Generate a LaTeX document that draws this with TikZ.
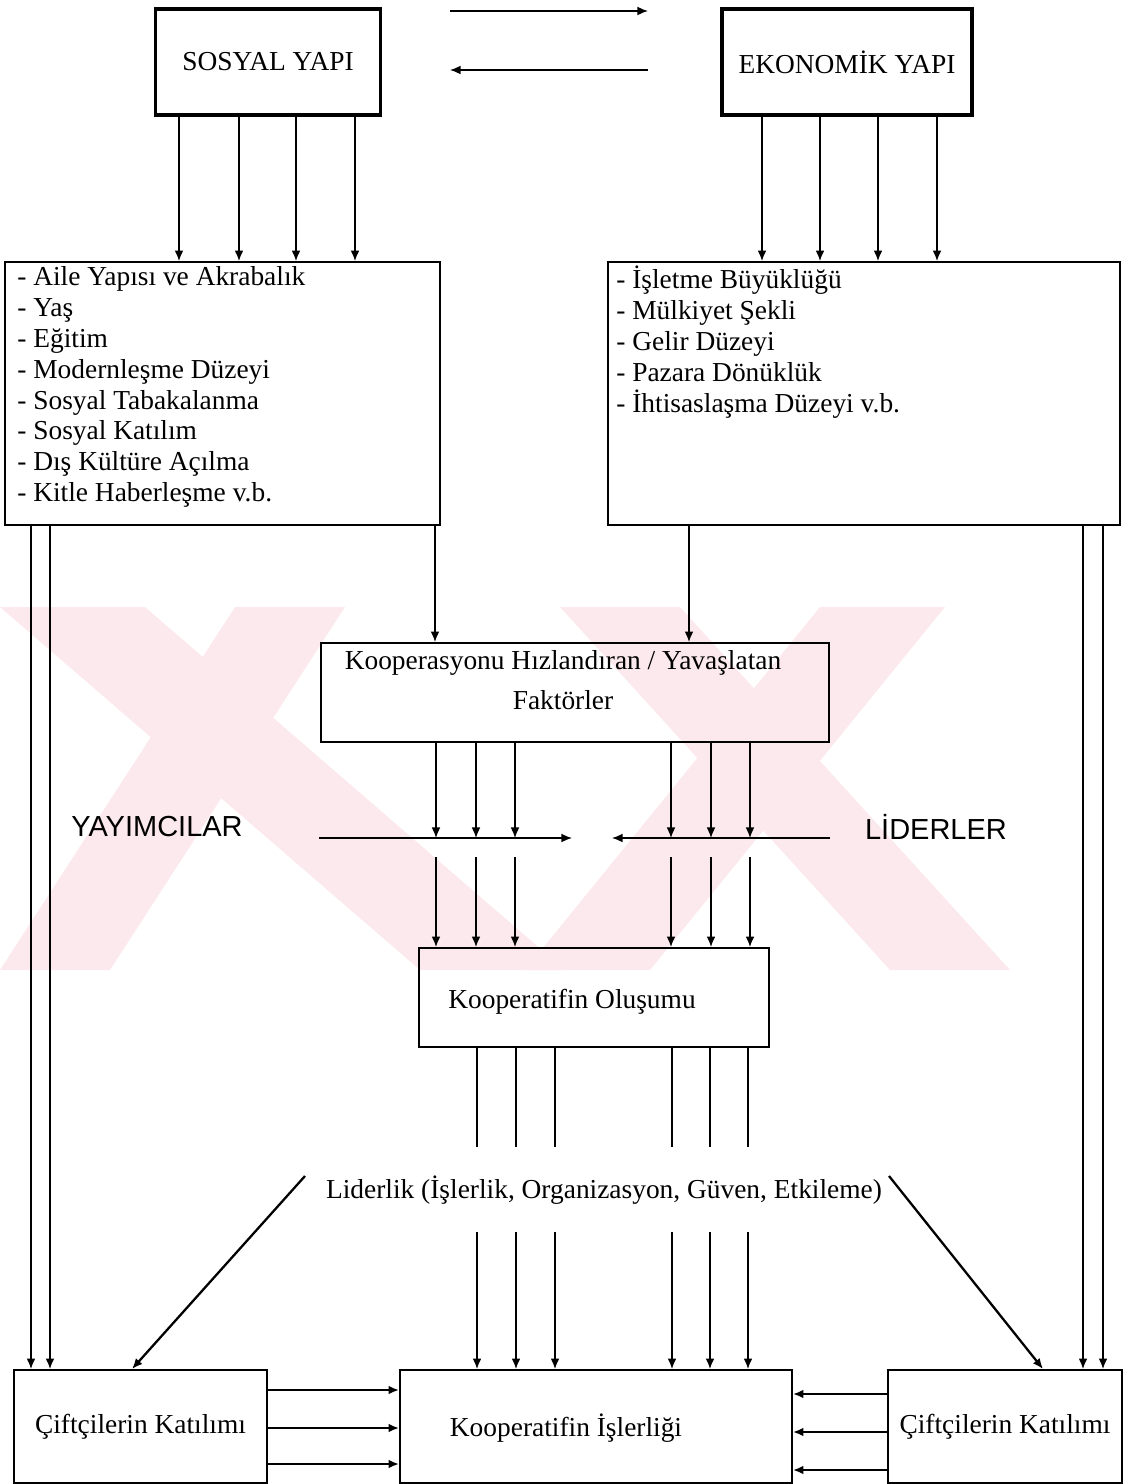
\documentclass[tikz,border=0pt]{standalone}
\usepackage{fontspec}
\setmainfont{Liberation Serif}
\newfontfamily\arialfont{Liberation Sans}
\usetikzlibrary{arrows.meta}

\definecolor{filigran}{RGB}{252,233,237}

\tikzset{
  kutu/.style={draw, line width=1.1pt, inner sep=0pt},
  kalinkutu/.style={draw, line width=1.9pt, inner sep=0pt},
  ok/.style={-{Latex[length=6pt,width=5pt]}, line width=0.8pt},
  kalinok/.style={-{Latex[length=6pt,width=5pt]}, line width=1.3pt},
  cizgi/.style={line width=0.8pt},
  yazi/.style={font=\fontsize{15.6}{17.6}\selectfont, inner sep=0pt},
  buyukyazi/.style={font=\arialfont\fontsize{16.5}{20}\selectfont, inner sep=0pt},
}

\begin{document}
\begin{tikzpicture}[x=0.02cm, y=-0.02cm]
\useasboundingbox (0,0) rectangle (1132,1484);

% filigran
\fill[filigran] (0,607) -- (145,607) -- (565,970) -- (420,970) -- cycle;
\fill[filigran] (235,607) -- (345,607) -- (110,970) -- (0,970) -- cycle;
\fill[filigran] (560,607) -- (680,607) -- (1010,970) -- (890,970) -- cycle;
\fill[filigran] (820,607) -- (945,607) -- (650,970) -- (525,970) -- cycle;

% ust kutular
\node[kalinkutu, yazi, minimum width=4.5cm, minimum height=2.12cm] (sosyal) at (268,62) {SOSYAL YAPI};
\node[kalinkutu, yazi, minimum width=5cm, minimum height=2.12cm] (ekonomik) at (847,62) {EKONOMİK YAPI};

\coordinate (s1) at (450,11);
\coordinate (e1) at (648,11);
\coordinate (e2) at (648,70);
\coordinate (s2) at (450,70);
\draw[ok] (s1) -- (e1);
\draw[ok] (e2) -- (s2);

% listeler
\node[kutu, minimum width=8.7cm, minimum height=5.26cm] (liste1) at (222.5,393.5) {};
\node[yazi, anchor=north west, align=left] (liste1yazi) at (17,266) {- Aile Yapısı ve Akrabalık\\- Yaş\\- Eğitim\\- Modernleşme Düzeyi\\- Sosyal Tabakalanma\\- Sosyal Katılım\\- Dış Kültüre Açılma\\- Kitle Haberleşme v.b.};
\node[kutu, minimum width=10.24cm, minimum height=5.26cm] (liste2) at (864,393.5) {};
\node[yazi, anchor=north west, align=left] (liste2yazi) at (616,266) {- İşletme Büyüklüğü\\- Mülkiyet Şekli\\- Gelir Düzeyi\\- Pazara Dönüklük\\- İhtisaslaşma Düzeyi v.b.};

\foreach \x in {179,239,296,355}
  \draw[ok] (\x,0 |- sosyal.south) -- (\x,0 |- liste1.north);
\foreach \x in {762,820,878,937}
  \draw[ok] (\x,0 |- ekonomik.south) -- (\x,0 |- liste2.north);

% faktorler
\node[kutu, minimum width=10.16cm, minimum height=1.98cm] (hiz) at (575,692.5) {};
\node[yazi, align=center, anchor=north] (hizyazi) at (563,650) {Kooperasyonu Hızlandıran / Yavaşlatan\\[5pt]Faktörler};
\draw[ok] (435,0 |- liste1.south) -- (435,0 |- hiz.north);
\draw[ok] (689,0 |- liste2.south) -- (689,0 |- hiz.north);

% yayimcilar ve liderler
\node[buyukyazi] (yayim) at (157,827) {YAYIMCILAR};
\node[buyukyazi] (lider) at (936,827) {LİDERLER};
\coordinate (yay1) at (319,838);
\coordinate (yay2) at (572,838);
\coordinate (lid1) at (830,838);
\coordinate (lid2) at (612,838);
\draw[ok] (yay1) -- (yay2);
\draw[ok] (lid1) -- (lid2);
\foreach \x in {436,476,515}
  \draw[ok] (\x,0 |- hiz.south) -- (\x,0 |- yay1);
\foreach \x in {671,711,750}
  \draw[ok] (\x,0 |- hiz.south) -- (\x,0 |- lid1);

% olusum
\node[kutu, minimum width=7cm, minimum height=1.98cm] (olusum) at (594,997.5) {};
\node[yazi] (olusumyazi) at (572,1002) {Kooperatifin Oluşumu};
\coordinate (alt1) at (0,857);
\foreach \x in {436,476,515,671,711,750}
  \draw[ok] (\x,0 |- alt1) -- (\x,0 |- olusum.north);

% liderlik
\node[yazi] (liderlik) at (604,1190) {Liderlik (İşlerlik, Organizasyon, Güven, Etkileme)};
\coordinate (ust1) at (0,1147);
\coordinate (alt2) at (0,1232);
\coordinate (sol) at (305,1176);
\coordinate (sag) at (889,1176);

% alt kutular
\node[kutu, yazi, minimum width=5.06cm, minimum height=2.26cm] (ciftci1) at (140.5,1426.5) {Çiftçilerin Katılımı};
\node[kutu, minimum width=7.84cm, minimum height=2.26cm] (isler) at (596,1426.5) {};
\node[yazi] (isleryazi) at (566,1428) {Kooperatifin İşlerliği};
\node[kutu, yazi, minimum width=4.68cm, minimum height=2.26cm] (ciftci2) at (1005,1426.5) {Çiftçilerin Katılımı};

\foreach \x in {477,516,555,672,710,748} {
  \draw[cizgi] (\x,0 |- olusum.south) -- (\x,0 |- ust1);
  \draw[ok] (\x,0 |- alt2) -- (\x,0 |- isler.north);
}
\draw[kalinok] (sol) -- (132,0 |- ciftci1.north);
\draw[kalinok] (sag) -- (1043,0 |- ciftci2.north);

\foreach \x in {31,50}
  \draw[ok] (\x,0 |- liste1.south) -- (\x,0 |- ciftci1.north);
\foreach \x in {1083,1103}
  \draw[ok] (\x,0 |- liste2.south) -- (\x,0 |- ciftci2.north);

\foreach \y in {1390,1428,1464}
  \draw[kalinok] (ciftci1.east |- 0,\y) -- (isler.west |- 0,\y);
\foreach \y in {1394,1432,1470}
  \draw[kalinok] (ciftci2.west |- 0,\y) -- (isler.east |- 0,\y);
\end{tikzpicture}
\end{document}
